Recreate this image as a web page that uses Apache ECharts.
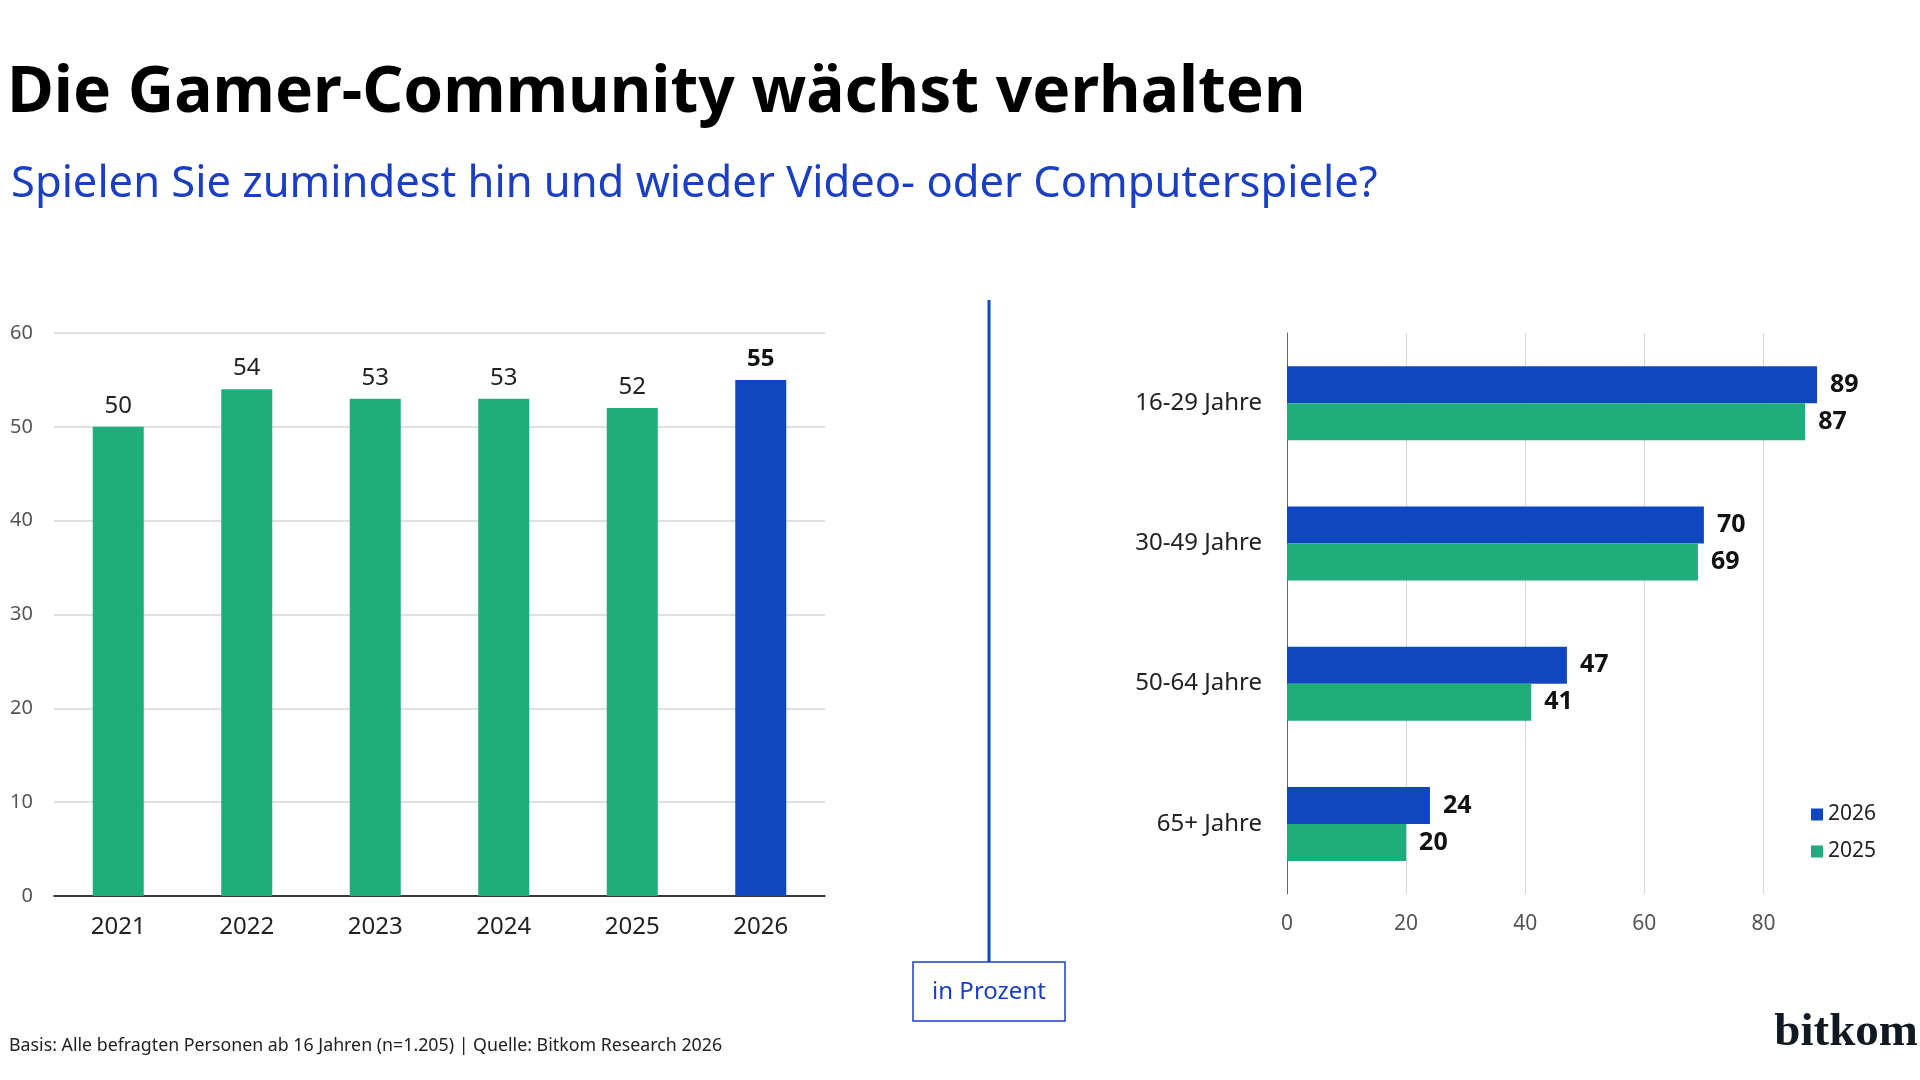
<!DOCTYPE html>
<html>
<head>
<meta charset="utf-8">
<script src="https://cdn.jsdelivr.net/npm/echarts@6/dist/echarts.min.js"></script>
<style>
  html, body { margin: 0; padding: 0; background: #fff; }
  #chart { width: 1920px; height: 1080px; }
</style>
</head>
<body>
<div id="chart"></div>
<script>
// Gesamt: Anteil Gamer je Jahr
const years = ['2021', '2022', '2023', '2024', '2025', '2026'];
const shareByYear = [50, 54, 53, 53, 52, 55];

// nach Altersgruppen
const ageGroups = ['16-29 Jahre', '30-49 Jahre', '50-64 Jahre', '65+ Jahre'];
const share2026 = [89, 70, 47, 24];
const share2025 = [87, 69, 41, 20];

const leftTicks = { min: 0, max: 60, interval: 10 };
const rightTicks = { min: 0, max: 90, interval: 20 };

const GREEN = '#1fad7b';
const BLUE = '#0f47c0';
const TEXT_BLUE = '#1a3fc4';
const FONT = '"Noto Sans", "Open Sans", sans-serif';

const chart = echarts.init(document.getElementById('chart'));

const lastIdx = shareByYear.length - 1;
const yearData = shareByYear.map((v, i) => {
  if (i === lastIdx) {
    return { value: v, itemStyle: { color: BLUE }, label: { fontWeight: 'bold', color: '#111' } };
  }
  return v;
});

const option = {
  backgroundColor: '#fff',
  textStyle: { fontFamily: FONT },
  animation: false,
  title: [{
    text: 'Die Gamer-Community wächst verhalten',
    left: 2,
    top: 57,
    textStyle: { fontFamily: FONT, fontSize: 64, fontWeight: 'bold', color: '#000' }
  }, {
    text: 'Spielen Sie zumindest hin und wieder Video- oder Computerspiele?',
    left: 6,
    top: 158,
    textStyle: { fontFamily: FONT, fontSize: 43.5, fontWeight: 'normal', color: TEXT_BLUE }
  }, {
    text: 'Basis: Alle befragten Personen ab 16 Jahren (n=1.205) | Quelle: Bitkom Research 2026',
    left: 4,
    top: 1032,
    textStyle: { fontFamily: FONT, fontSize: 17.8, fontWeight: 'normal', color: '#222' }
  }],
  legend: {
    data: ['2026', '2025'],
    orient: 'vertical',
    left: 1806,
    top: 799,
    itemWidth: 12,
    itemHeight: 12,
    itemGap: 16,
    icon: 'rect',
    textStyle: { fontFamily: FONT, fontSize: 21, color: '#222' }
  },
  grid: [
    { left: 54, top: 333, width: 771, height: 563 },
    { left: 1287, top: 333, width: 536, height: 561 }
  ],
  xAxis: [{
    gridIndex: 0,
    type: 'category',
    data: years,
    axisLine: { lineStyle: { color: '#000', width: 1.5 } },
    axisTick: { show: false },
    axisLabel: { fontFamily: FONT, fontSize: 24, color: '#222', margin: 19 }
  }, {
    gridIndex: 1,
    type: 'value',
    min: rightTicks.min,
    max: rightTicks.max,
    interval: rightTicks.interval,
    axisLine: { show: false },
    axisTick: { show: false },
    axisLabel: { fontFamily: FONT, fontSize: 21, color: '#555', margin: 20, showMaxLabel: false },
    splitLine: { show: true, showMaxLine: false, lineStyle: { color: '#d6d6d6', width: 1 } }
  }],
  yAxis: [{
    gridIndex: 0,
    type: 'value',
    min: leftTicks.min,
    max: leftTicks.max,
    interval: leftTicks.interval,
    axisLine: { show: false },
    axisTick: { show: false },
    axisLabel: { fontFamily: FONT, fontSize: 20, color: '#555', margin: 21 },
    splitLine: { lineStyle: { color: '#d6d6d6', width: 1.5 } }
  }, {
    gridIndex: 1,
    type: 'category',
    data: ageGroups,
    inverse: true,
    axisLine: { show: true, lineStyle: { color: '#666', width: 1 } },
    axisTick: { show: false },
    axisLabel: { fontFamily: FONT, fontSize: 24, color: '#222', margin: 25 }
  }],
  series: [{
    name: 'Gesamt',
    type: 'bar',
    xAxisIndex: 0,
    yAxisIndex: 0,
    data: yearData,
    barWidth: 51,
    itemStyle: { color: GREEN },
    label: { show: true, position: 'top', distance: 9, fontFamily: FONT, fontSize: 24, color: '#222' }
  }, {
    name: '2026',
    type: 'bar',
    xAxisIndex: 1,
    yAxisIndex: 1,
    data: share2026,
    barWidth: 37,
    barGap: '0%',
    itemStyle: { color: BLUE },
    label: { show: true, position: 'right', distance: 13, fontFamily: FONT, fontSize: 25, fontWeight: 'bold', color: '#111' }
  }, {
    name: '2025',
    type: 'bar',
    xAxisIndex: 1,
    yAxisIndex: 1,
    data: share2025,
    barWidth: 37,
    barGap: '0%',
    itemStyle: { color: GREEN },
    label: { show: true, position: 'right', distance: 13, fontFamily: FONT, fontSize: 25, fontWeight: 'bold', color: '#111' }
  }],
  graphic: [{
    type: 'line',
    shape: { x1: 989, y1: 300, x2: 989, y2: 962 },
    style: { stroke: BLUE, lineWidth: 3 }
  }, {
    type: 'rect',
    shape: { x: 913, y: 962, width: 152, height: 59 },
    style: { fill: '#fff', stroke: TEXT_BLUE, lineWidth: 1.5 }
  }, {
    type: 'text',
    x: 989,
    y: 992,
    style: {
      text: 'in Prozent',
      font: '24px ' + FONT,
      fill: TEXT_BLUE,
      align: 'center',
      verticalAlign: 'middle'
    }
  }, {
    type: 'text',
    x: 1918,
    y: 1056,
    style: {
      text: 'bitkom',
      font: 'bold 47px "Liberation Serif", "DejaVu Serif", serif',
      fill: '#111a22',
      align: 'right',
      verticalAlign: 'bottom'
    }
  }]
};

chart.setOption(option);
</script>
</body>
</html>
